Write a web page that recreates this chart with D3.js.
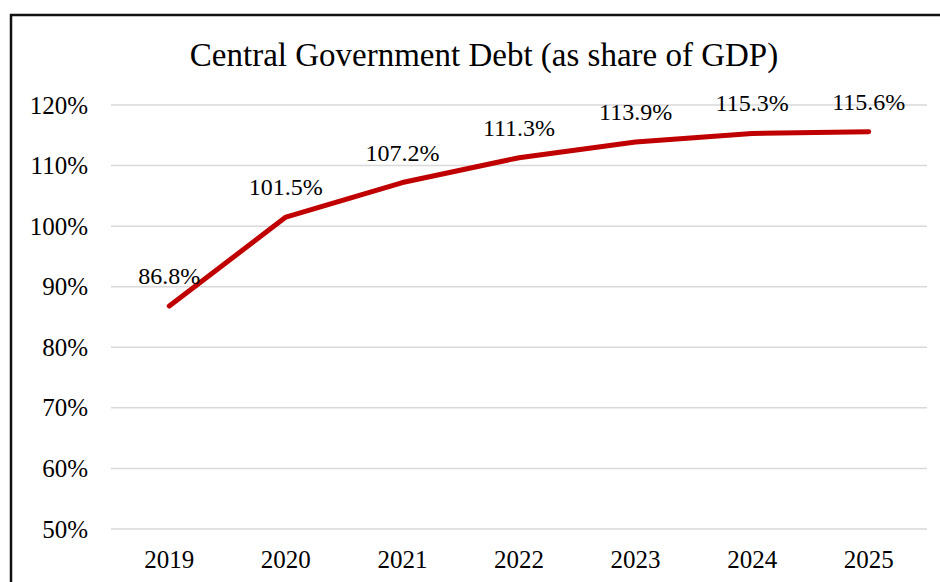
<!DOCTYPE html>
<html>
<head>
<meta charset="utf-8">
<script src="https://cdn.jsdelivr.net/npm/d3@7"></script>
<style>
  body { margin: 0; background: white; }
  svg { display: block; }
</style>
</head>
<body>
<div id="chart"></div>
<script>
const years = ["2019", "2020", "2021", "2022", "2023", "2024", "2025"]
const debtShare = [86.8, 101.5, 107.2, 111.3, 113.9, 115.3, 115.6]
const yTicks = [50, 60, 70, 80, 90, 100, 110, 120]

const WIDTH = 940
const HEIGHT = 582
const FONT = "'Liberation Serif', 'DejaVu Serif', serif"
const LINE_COLOR = "#c00000"
const GRID_COLOR = "#d9d9d9"

const svg = d3.select("#chart").append("svg")
    .attr("width", WIDTH)
    .attr("height", HEIGHT)

// outer frame, runs past the right and bottom edge
svg.append("rect")
    .attr("x", 11)
    .attr("y", 15)
    .attr("width", 940)
    .attr("height", 600)
    .attr("fill", "white")
    .attr("stroke", "#111")
    .attr("stroke-width", 2.5)

const x = d3.scaleBand().domain(years).range([111, 927])
const y = d3.scaleLinear().domain([50, 120]).range([529, 105])

// gridlines
svg.append("g").selectAll("line")
    .data(yTicks)
    .join("line")
    .attr("x1", 111)
    .attr("x2", 927)
    .attr("y1", d => y(d))
    .attr("y2", d => y(d))
    .attr("stroke", GRID_COLOR)
    .attr("stroke-width", 1.5)

// y axis labels
const yAxis = svg.append("g")
    .attr("transform", "translate(88,0)")
    .call(d3.axisLeft(y).tickValues(yTicks).tickFormat(d => d + "%").tickSize(0).tickPadding(0))
yAxis.select(".domain").remove()
yAxis.selectAll("text")
    .attr("font-family", FONT)
    .attr("font-size", 25)
    .attr("fill", "#000")

// x axis labels
const xAxis = svg.append("g")
    .attr("transform", "translate(0,550)")
    .call(d3.axisBottom(x).tickSize(0).tickPadding(0))
xAxis.select(".domain").remove()
xAxis.selectAll("text")
    .attr("font-family", FONT)
    .attr("font-size", 25)
    .attr("fill", "#000")

// title
svg.append("text")
    .attr("x", 484)
    .attr("y", 66)
    .attr("text-anchor", "middle")
    .attr("font-family", FONT)
    .attr("font-size", 33)
    .attr("fill", "#000")
    .text("Central Government Debt (as share of GDP)")

const points = years.map((yr, i) => ({ year: yr, value: debtShare[i] }))

const line = d3.line()
    .x(d => x(d.year) + x.bandwidth() / 2)
    .y(d => y(d.value))

svg.append("path")
    .datum(points)
    .attr("d", line)
    .attr("fill", "none")
    .attr("stroke", LINE_COLOR)
    .attr("stroke-width", 5)
    .attr("stroke-linecap", "round")
    .attr("stroke-linejoin", "round")

// data labels
svg.append("g").selectAll("text")
    .data(points)
    .join("text")
    .attr("x", d => x(d.year) + x.bandwidth() / 2)
    .attr("y", d => y(d.value) - 22)
    .attr("text-anchor", "middle")
    .attr("font-family", FONT)
    .attr("font-size", 24)
    .attr("fill", "#000")
    .text(d => d.value.toFixed(1) + "%")
</script>
</body>
</html>
